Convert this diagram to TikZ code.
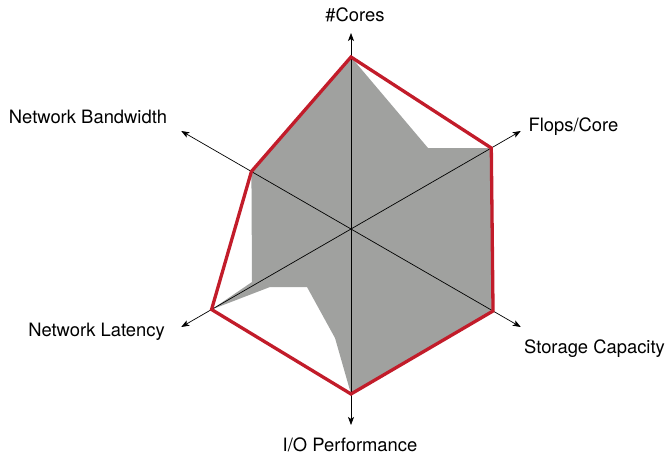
\documentclass[tikz,border=0pt]{standalone}
\usepackage{fontspec}
\setmainfont{TeX Gyre Heros}
\usetikzlibrary{arrows.meta}
\definecolor{radred}{RGB}{194,28,42}
\definecolor{radgray}{RGB}{160,161,159}
\begin{document}
\begin{tikzpicture}[x=1pt,y=-1pt,
  axisline/.style={draw=black,line width=0.7pt,-{Stealth[length=8pt,width=6pt,inset=2pt]}},
  lbl/.style={font=\fontsize{18.4}{20}\selectfont,inner sep=0pt,anchor=base},
  redpoly/.style={draw=radred,line width=3.3pt,line join=miter},
  grayfill/.style={fill=radgray,draw=none}]
\useasboundingbox (0,0) rectangle (667,455);
\coordinate (O) at (351,229);
% axis tips
\path (O) ++(-90:196) coordinate (aC);
\path (O) ++(-30:196) coordinate (aF);
\path (O) ++(30:196) coordinate (aS);
\path (O) ++(90:196) coordinate (aI);
\path (O) ++(150:196) coordinate (aL);
\path (O) ++(210:196) coordinate (aB);
% red polygon vertices
\path (O) ++(-90:172) coordinate (rC);
\path (O) ++(-30:162) coordinate (rF);
\path (O) ++(30:164) coordinate (rS);
\path (O) ++(90:165) coordinate (rI);
\path (O) ++(150:161) coordinate (rL);
\path (O) ++(210:115) coordinate (rB);
% gray area
\fill[grayfill] (rC) -- (428,148) -- (rF) -- (rS) -- (rI) -- (335,338) -- (307,287)
  -- (270,287) -- (rL) -- (252,282) -- (rB) -- cycle;
% axes
\draw[axisline] (O) -- (aC);
\draw[axisline] (O) -- (aF);
\draw[axisline] (O) -- (aS);
\draw[axisline] (O) -- (aI);
\draw[axisline] (O) -- (aL);
\draw[axisline] (O) -- (aB);
% red polygon
\draw[redpoly] (rC) -- (rF) -- (rS) -- (rI) -- (rL) -- (rB) -- cycle;
% labels
\node[lbl] (lC) at (355,21) {\#Cores};
\node[lbl] (lF) at (573.5,131) {Flops/Core};
\node[lbl] (lS) at (594.5,353) {Storage Capacity};
\node[lbl] (lI) at (350,451) {I/O Performance};
\node[lbl] (lL) at (96.5,336) {Network Latency};
\node[lbl] (lB) at (88,123) {Network Bandwidth};
\end{tikzpicture}
\end{document}
